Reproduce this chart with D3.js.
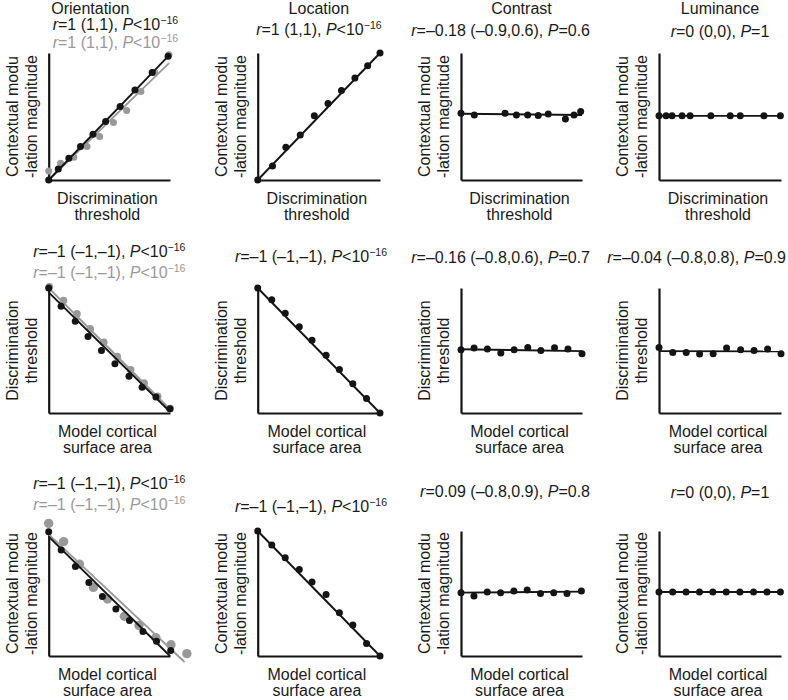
<!DOCTYPE html>
<html><head><meta charset="utf-8">
<script src="https://cdn.jsdelivr.net/npm/d3@7"></script>
<style>
body{margin:0;background:#fff}
svg{display:block}
text{font-family:"Liberation Sans",Arial,Helvetica,sans-serif;fill:#1a1a1a}
</style>
</head><body>
<svg id="chart" width="788" height="700"></svg>
<script>
// ---------------- text ----------------
const colTitles = ["Orientation", "Location", "Contrast", "Luminance"];
const yLabelsByRow = [["Contextual modu", "-lation magnitude"], ["Discrimination", "threshold"], ["Contextual modu", "-lation magnitude"]];
const xLabelsByRow = [["Discrimination", "threshold"], ["Model cortical", "surface area"], ["Model cortical", "surface area"]];

// stats: [r text, P relation, P value, exponent]
const statsRow0 = [["1 (1,1)", "<", "10", "\u221216"], ["1 (1,1)", "<", "10", "\u221216"], ["\u20130.18 (\u20130.9,0.6)", "=", "0.6", ""], ["0 (0,0)", "=", "1", ""]];
const statsRow1 = [["\u20131 (\u20131,\u20131)", "<", "10", "\u221216"], ["\u20131 (\u20131,\u20131)", "<", "10", "\u221216"], ["\u20130.16 (\u20130.8,0.6)", "=", "0.7", ""], ["\u20130.04 (\u20130.8,0.8)", "=", "0.9", ""]];
const statsRow2 = [["\u20131 (\u20131,\u20131)", "<", "10", "\u221216"], ["\u20131 (\u20131,\u20131)", "<", "10", "\u221216"], ["0.09 (\u20130.8,0.9)", "=", "0.8", ""], ["0 (0,0)", "=", "1", ""]];
const grayStats = [["1 (1,1)", "<", "10", "\u221216"], ["\u20131 (\u20131,\u20131)", "<", "10", "\u221216"], ["\u20131 (\u20131,\u20131)", "<", "10", "\u221216"]];

// ---------------- data (normalised units) ----------------
// Row 0: contextual modulation magnitude vs discrimination threshold
const oriThrX = [0, 0.079, 0.166, 0.262, 0.365, 0.469, 0.589, 0.711, 0.853, 0.984];
const oriThrY = [0, 0.087, 0.171, 0.263, 0.361, 0.461, 0.579, 0.708, 0.847, 0.974];
const oriThrFit = [[0, 0], [0.984, 0.974]];
const oriThrGrayX = [0, 0.098, 0.207, 0.316, 0.420, 0.534, 0.643, 0.760, 0.875, 0.992];
const oriThrGrayY = [0.071, 0.132, 0.179, 0.263, 0.342, 0.453, 0.547, 0.697, 0.847, 0.987];
const oriThrGrayFit = [[0, 0], [0.992, 0.921]];

const locThrX = [0, 0.121, 0.230, 0.348, 0.463, 0.575, 0.685, 0.795, 0.899, 1.0];
const locThrY = [0, 0.111, 0.258, 0.355, 0.505, 0.603, 0.705, 0.803, 0.900, 1.0];
const locThrFit = [[0, 0], [1, 1]];

const conThrX = [0, 0.110, 0.364, 0.458, 0.551, 0.638, 0.721, 0.863, 0.934, 0.989];
const conThrY = [0.525, 0.512, 0.525, 0.512, 0.512, 0.507, 0.520, 0.480, 0.512, 0.539];
const conThrFit = [[0, 0.522], [1, 0.512]];

const lumThrX = [0, 0.058, 0.107, 0.189, 0.255, 0.425, 0.584, 0.666, 0.860, 0.995];
const lumThrY = [0.505, 0.505, 0.505, 0.505, 0.505, 0.505, 0.505, 0.505, 0.505, 0.505];
const lumThrFit = [[0, 0.505], [1, 0.505]];

// Row 1: discrimination threshold vs model cortical surface area
const oriAreaThrX = [0, 0.102, 0.219, 0.324, 0.435, 0.546, 0.662, 0.770, 0.884, 1.0];
const oriAreaThrY = [1, 0.854, 0.734, 0.612, 0.501, 0.394, 0.295, 0.207, 0.128, 0.035];
const oriAreaThrFit = [[0, 0.965], [1, 0.01]];
const oriAreaThrGrayX = [0.006, 0.122, 0.233, 0.343, 0.454, 0.565, 0.676, 0.787, 0.898, 1.0];
const oriAreaThrGrayY = [1.01, 0.899, 0.793, 0.673, 0.566, 0.452, 0.346, 0.239, 0.133, 0.035];
const oriAreaThrGrayFit = [[0, 1.0], [1, 0.03]];

const locAreaThrX = [0, 0.115, 0.225, 0.340, 0.444, 0.559, 0.668, 0.778, 0.890, 1.0];
const locAreaThrY = [1, 0.906, 0.798, 0.691, 0.583, 0.462, 0.349, 0.234, 0.116, 0];
const locAreaThrFit = [[0, 1], [1, 0]];

const conAreaThrX = [0, 0.108, 0.218, 0.329, 0.439, 0.552, 0.660, 0.773, 0.884, 1.0];
const conAreaThrY = [0.507, 0.52, 0.512, 0.48, 0.507, 0.525, 0.501, 0.523, 0.512, 0.475];
const conAreaThrFit = [[0, 0.51], [1, 0.495]];

const lumAreaThrX = [0, 0.113, 0.223, 0.333, 0.444, 0.554, 0.669, 0.779, 0.890, 1.0];
const lumAreaThrY = [0.525, 0.485, 0.485, 0.472, 0.475, 0.52, 0.507, 0.501, 0.512, 0.475];
const lumAreaThrFit = [[0, 0.495], [1, 0.493]];

// Row 2: contextual modulation magnitude vs model cortical surface area
const oriAreaModX = [0, 0.103, 0.220, 0.331, 0.443, 0.554, 0.666, 0.777, 0.889, 1.006];
const oriAreaModY = [0.995, 0.849, 0.716, 0.589, 0.477, 0.377, 0.284, 0.196, 0.119, 0.045];
const oriAreaModFit = [[0, 0.955], [1, 0]];
const oriAreaModGrayX = [0, 0.123, 0.253, 0.368, 0.485, 0.624, 0.744, 0.883, 1.008, 1.139];
const oriAreaModGrayY = [1.061, 0.915, 0.735, 0.549, 0.456, 0.318, 0.244, 0.146, 0.090, 0.019];
const oriAreaModGrayFit = [[0, 0.973], [1.12, -0.048]];

const locAreaModX = [0, 0.115, 0.225, 0.340, 0.444, 0.559, 0.668, 0.778, 0.890, 1.0];
const locAreaModY = [1, 0.888, 0.787, 0.693, 0.592, 0.493, 0.347, 0.248, 0.101, 0];
const locAreaModFit = [[0, 1], [1, 0]];

const conAreaModX = [0, 0.107, 0.217, 0.327, 0.437, 0.547, 0.657, 0.766, 0.876, 0.995];
const conAreaModY = [0.507, 0.48, 0.512, 0.507, 0.52, 0.528, 0.501, 0.507, 0.501, 0.52];
const conAreaModFit = [[0, 0.507], [1, 0.515]];

const lumAreaModX = [0, 0.112, 0.222, 0.332, 0.441, 0.551, 0.663, 0.775, 0.885, 0.995];
const lumAreaModY = [0.512, 0.512, 0.512, 0.512, 0.512, 0.512, 0.512, 0.512, 0.512, 0.512];
const lumAreaModFit = [[0, 0.512], [1, 0.512]];

// ---------------- layout ----------------
const colAxisX = [48.7, 257.7, 461, 659];
const colAxisEnd = [170, 380, 582, 781];
const colRight = [190, 387, 590, 786];
const rowTop = [53, 288, 531];
const rowBottom = [180, 413, 656];
const titleDx = [-19, 0, 0, 0];
const statY = [[30, 35, 36, 37], [257, 262, 263, 263], [489, 512, 497, 498]];
const statDx = [[6, 0, 0, 0], [0, 0, 0, 0], [0, 0, 0, 0]];
const grayDy = [18, 21, 21];
const BLACK = "#141414", GRAY = "#999999";

const zip = (a, b) => a.map((v, i) => [v, b[i]]);
const panels = [
  {r: 0, c: 0, pts: zip(oriThrX, oriThrY), fit: oriThrFit, gpts: zip(oriThrGrayX, oriThrGrayY), gfit: oriThrGrayFit, gr: 3.5},
  {r: 0, c: 1, pts: zip(locThrX, locThrY), fit: locThrFit},
  {r: 0, c: 2, pts: zip(conThrX, conThrY), fit: conThrFit},
  {r: 0, c: 3, pts: zip(lumThrX, lumThrY), fit: lumThrFit},
  {r: 1, c: 0, pts: zip(oriAreaThrX, oriAreaThrY), fit: oriAreaThrFit, gpts: zip(oriAreaThrGrayX, oriAreaThrGrayY), gfit: oriAreaThrGrayFit, gr: 3.8},
  {r: 1, c: 1, pts: zip(locAreaThrX, locAreaThrY), fit: locAreaThrFit},
  {r: 1, c: 2, pts: zip(conAreaThrX, conAreaThrY), fit: conAreaThrFit},
  {r: 1, c: 3, pts: zip(lumAreaThrX, lumAreaThrY), fit: lumAreaThrFit},
  {r: 2, c: 0, pts: zip(oriAreaModX, oriAreaModY), fit: oriAreaModFit, gpts: zip(oriAreaModGrayX, oriAreaModGrayY), gfit: oriAreaModGrayFit, gr: 4.7},
  {r: 2, c: 1, pts: zip(locAreaModX, locAreaModY), fit: locAreaModFit},
  {r: 2, c: 2, pts: zip(conAreaModX, conAreaModY), fit: conAreaModFit},
  {r: 2, c: 3, pts: zip(lumAreaModX, lumAreaModY), fit: lumAreaModFit}
];
const statsRows = [statsRow0, statsRow1, statsRow2];

const svg = d3.select("#chart");

function statText(g, parts, y, mid, right, color) {
  const t = g.append("text").attr("y", y).attr("font-size", 16).style("fill", color);
  t.append("tspan").attr("font-style", "italic").text("r");
  t.append("tspan").text("=" + parts[0] + ", ");
  t.append("tspan").attr("font-style", "italic").text("P");
  t.append("tspan").text(parts[1] + parts[2]);
  if (parts[3]) t.append("tspan").attr("font-size", 10.5).attr("dy", -6).text(parts[3]);
  const w = t.node().getComputedTextLength();
  t.attr("x", Math.min(mid - w / 2, right - w));
}

// column titles
colTitles.forEach((s, c) => {
  svg.append("text").attr("x", (colAxisX[c] + colAxisEnd[c]) / 2 + titleDx[c]).attr("y", 14)
    .attr("text-anchor", "middle").attr("font-size", 16).text(s);
});

panels.forEach(p => {
  const g = svg.append("g");
  const x = d3.scaleLinear().domain([0, 1]).range([colAxisX[p.c], colAxisEnd[p.c]]);
  const y = d3.scaleLinear().domain([0, 1]).range([rowBottom[p.r], rowTop[p.r]]);
  const mid = (colAxisX[p.c] + colAxisEnd[p.c]) / 2;

  // axes (no ticks)
  const ax = g.append("g").attr("transform", `translate(0,${rowBottom[p.r]})`)
    .call(d3.axisBottom(x).tickValues([]).tickSizeOuter(0));
  const ay = g.append("g").attr("transform", `translate(${colAxisX[p.c]},0)`)
    .call(d3.axisLeft(y).tickValues([]).tickSizeOuter(0));
  [ax, ay].forEach(a => a.select(".domain").attr("stroke", BLACK).attr("stroke-width", 2.2));

  const line = d3.line().x(d => x(d[0])).y(d => y(d[1]));
  if (p.gpts) {
    g.selectAll("circle.g").data(p.gpts).join("circle").attr("class", "g")
      .attr("cx", d => x(d[0])).attr("cy", d => y(d[1])).attr("r", p.gr).attr("fill", GRAY);
    g.append("path").datum(p.gfit).attr("d", line).attr("fill", "none").attr("stroke", GRAY).attr("stroke-width", 1.8);
  }
  g.append("path").datum(p.fit).attr("d", line).attr("fill", "none").attr("stroke", BLACK).attr("stroke-width", 1.9);
  g.selectAll("circle.b").data(p.pts).join("circle").attr("class", "b")
    .attr("cx", d => x(d[0])).attr("cy", d => y(d[1])).attr("r", 3.5).attr("fill", BLACK);

  // stats
  const smid = mid + statDx[p.r][p.c];
  statText(g, statsRows[p.r][p.c], statY[p.r][p.c], smid, colRight[p.c], "#1a1a1a");
  if (p.gpts) statText(g, grayStats[p.r], statY[p.r][p.c] + grayDy[p.r], smid, colRight[p.c], GRAY);

  // y label
  const yl = yLabelsByRow[p.r];
  const ym = (rowTop[p.r] + rowBottom[p.r]) / 2;
  [[yl[0], -31], [yl[1], -12]].forEach(([s, dx]) => {
    g.append("text").attr("transform", `translate(${colAxisX[p.c] + dx},${ym}) rotate(-90)`)
      .attr("text-anchor", "middle").attr("font-size", 16).text(s);
  });
  // x label
  const xl = xLabelsByRow[p.r];
  [[xl[0], 24], [xl[1], 40]].forEach(([s, dy]) => {
    g.append("text").attr("x", mid - 2).attr("y", rowBottom[p.r] + dy)
      .attr("text-anchor", "middle").attr("font-size", 16).text(s);
  });
});
</script>
</body></html>
